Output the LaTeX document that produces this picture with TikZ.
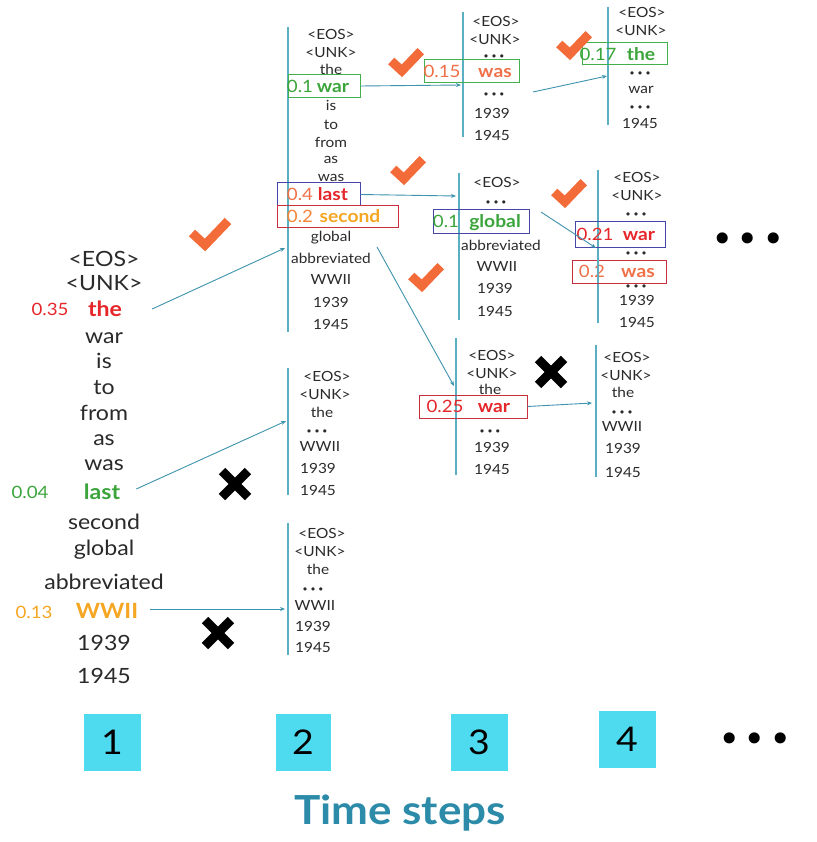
\documentclass[tikz,border=0pt]{standalone}
\usepackage{fontspec}
\setmainfont{Lato}[FakeStretch=1.1]
\newfontfamily\dotfont{DejaVu Sans}
\usetikzlibrary{arrows.meta}
\definecolor{txt}{HTML}{2A2A2A}
\definecolor{vl}{HTML}{5AAFC2}
\definecolor{arr}{HTML}{3E93AD}
\definecolor{rd}{HTML}{E5262A}
\definecolor{gr}{HTML}{3BA53B}
\definecolor{orr}{HTML}{F5A623}
\definecolor{sal}{HTML}{F07048}
\definecolor{chk}{HTML}{F26B38}
\definecolor{cy}{HTML}{4FDBEF}
\definecolor{ts}{HTML}{2C8BA8}
\definecolor{bgr}{HTML}{44B04C}
\definecolor{bbl}{HTML}{4646A8}
\definecolor{brd}{HTML}{C83040}
\newcommand\dd{{\dotfont\fontsize{11}{11}\selectfont •\kern1.5pt•\kern1.5pt•}}
\tikzset{
  word/.style={inner sep=0pt, text=txt, font=\fontsize{14}{14}\selectfont, text height=10.1pt, text depth=0pt},
  bigword/.style={word, font=\fontsize{21}{21}\selectfont, text height=15pt},
  bigbold/.style={bigword, font=\fontsize{21}{21}\selectfont\bfseries},
  bigprob/.style={bigword, font=\fontsize{17}{17}\selectfont, text height=12.2pt},
  bprob/.style={inner sep=0pt, font=\fontsize{17}{17}\selectfont, text height=12.2pt, text depth=0pt},
  bword/.style={bprob, font=\fontsize{17.5}{17.5}\selectfont\bfseries},
  hbox/.style={draw=#1, line width=1pt, inner sep=0pt, rectangle},
  vline/.style={draw=vl, line width=1.2pt},
  conn/.style={draw=arr, line width=0.9pt, -{Stealth[length=5pt,width=4pt]}},
  checkmk/.pic={\draw[chk, line width=9pt, line join=miter] (-18,0) -- (-5,12) -- (18,-12);},
  crossmk/.pic={\draw[black, line width=9pt] (-13,-13) -- (13,13) (-13,13) -- (13,-13);},
  stepbox/.style={fill=cy, minimum width=57pt, minimum height=57pt, inner sep=0pt, font=\fontsize{34}{34}\selectfont, text=black},
  bigdots/.style={inner sep=0pt, font=\dotfont\fontsize{38}{38}\selectfont},
}
\begin{document}
\begin{tikzpicture}[x=1pt,y=-1pt]
\useasboundingbox[fill=white] (0,0) rectangle (816,842);

% ---------- column 1 ----------
\foreach \t/\y [count=\i] in {{<EOS>}/259,{<UNK>}/283,war/336,is/361,to/387,from/413,as/438,was/463,second/522,global/548,abbreviated/582,1939/643,1945/676}
  \node[bigword] (a\i) at (104,\y) {\t};
\node[bigbold, text=rd] (athe) at (105,309) {the};
\node[bigprob, text=rd] (pthe) at (50,309) {0.35};
\node[bigbold, text=gr] (alast) at (102,492) {last};
\node[bigprob, text=gr] (plast) at (30,492) {0.04};
\node[bigbold, text=orr] (awwii) at (107,611) {WWII};
\node[bigprob, text=orr] (pwwii) at (34,612) {0.13};

% ---------- column 2 top ----------
\draw[vline] (288,27) -- (288,332);
\foreach \t/\y [count=\i] in {{<EOS>}/34,{<UNK>}/52,the/69,is/105,to/124,from/142,as/158,was/176,global/236,abbreviated/258,WWII/279,1939/302,1945/324}
  \node[word] (b\i) at (331,\y) {\t};
\node[hbox=bgr, minimum width=72pt, minimum height=23pt] (bwar) at (324,86) {};
\node[bprob, text=gr] at (300,86) {0.1};
\node[bword, text=gr] at (333,86) {war};
\node[hbox=bbl, minimum width=83pt, minimum height=23pt] (blast) at (318.5,194.5) {};
\node[bprob, text=sal] at (300,194) {0.4};
\node[bword, text=rd] at (333,194) {last};
\node[hbox=brd, minimum width=121pt, minimum height=21pt] (bsecond) at (337.5,216.5) {};
\node[bprob, text=sal!60!orr] at (300,216) {0.2};
\node[bword, text=orr] at (350,216) {second};

% ---------- column 2 middle ----------
\draw[vline] (288,368) -- (288,495);
\foreach \x/\y/\t [count=\i] in {327/376/{<EOS>},325/394/{<UNK>},322/412/the,317/430/\dd,320/446/WWII,318/468/1939,318/490/1945}
  \node[word] (c\i) at (\x,\y) {\t};

% ---------- column 2 bottom ----------
\draw[vline] (288,523) -- (288,655);
\foreach \x/\y/\t [count=\i] in {322/533/{<EOS>},320/551/{<UNK>},318/569/the,313/588/\dd,315/605/WWII,313/626/1939,313/647/1945}
  \node[word] (d\i) at (\x,\y) {\t};

% ---------- column 3 top ----------
\draw[vline] (463,12) -- (463,137);
\foreach \x/\y/\t [count=\i] in {496/21/{<EOS>},495/39/{<UNK>},494/55/\dd,494/93/\dd,492/113/1939,492/135/1945}
  \node[word] (e\i) at (\x,\y) {\t};
\node[hbox=bgr, minimum width=95pt, minimum height=23pt] (ewas) at (471.5,71.5) {};
\node[bprob, text=sal] at (442,71) {0.15};
\node[bword, text=sal] at (495,71) {was};

% ---------- column 4 top ----------
\draw[vline] (608,7) -- (608,125);
\foreach \x/\y/\t [count=\i] in {642/12/{<EOS>},641/30/{<UNK>},640/72/\dd,641/88/war,640/106/\dd,640/123/1945}
  \node[word] (f\i) at (\x,\y) {\t};
\node[hbox=bgr, minimum width=85pt, minimum height=22pt] (fthe) at (624.5,54) {};
\node[bprob, text=gr] at (598,54) {0.17};
\node[bword, text=gr] at (641,54) {the};

% ---------- column 3 middle ----------
\draw[vline] (459,173) -- (459,320);
\foreach \x/\y/\t [count=\i] in {497/182/{<EOS>},496/201/\dd,501/245/abbreviated,497/266/WWII,495/288/1939,495/311/1945}
  \node[word] (g\i) at (\x,\y) {\t};
\node[hbox=bbl, minimum width=96pt, minimum height=23pt] (gglobal) at (481,221.5) {};
\node[bprob, text=gr] at (446,221) {0.1};
\node[bword, text=gr] at (495,221) {global};

% ---------- column 4 middle ----------
\draw[vline] (598,170) -- (598,323);
\foreach \x/\y/\t [count=\i] in {637/177/{<EOS>},637/195/{<UNK>},636/213/\dd,636/252/\dd,636/285/\dd,637/300/1939,637/322/1945}
  \node[word] (h\i) at (\x,\y) {\t};
\node[hbox=bbl, minimum width=90pt, minimum height=25pt] (hwar) at (620,234.5) {};
\node[bprob, text=rd] at (595,234) {0.21};
\node[bword, text=rd] at (639,234) {war};
\node[hbox=brd, minimum width=94pt, minimum height=23pt, fill=white] (hwas) at (619,271.5) {};
\node[bprob, text=sal] at (592,271) {0.2};
\node[bword, text=sal] at (638,271) {was};
\draw[vline] (598,260) -- (598,283);

% ---------- column 3 bottom ----------
\draw[vline] (456,338) -- (456,475);
\foreach \x/\y/\t [count=\i] in {492/355/{<EOS>},492/373/{<UNK>},490/389/the,490/430/\dd,492/447/1939,492/469/1945}
  \node[word] (k\i) at (\x,\y) {\t};
\node[hbox=brd, minimum width=108pt, minimum height=23pt] (kwar) at (473,406.5) {};
\node[bprob, text=rd] at (445,406) {0.25};
\node[bword, text=rd] at (494,406) {war};

% ---------- column 4 bottom ----------
\draw[vline] (596,345) -- (596,477);
\foreach \x/\y/\t [count=\i] in {627/357/{<EOS>},626/375/{<UNK>},623/392/the,622/411/\dd,622/426/WWII,623/448/1939,623/472/1945}
  \node[word] (m\i) at (\x,\y) {\t};

% ---------- connectors ----------
\coordinate (t2a) at (285,248);
\coordinate (t2b) at (286,421);
\coordinate (t2c) at (285,609);
\coordinate (t3a) at (461,85);
\coordinate (t3b) at (456,196);
\coordinate (t3c) at (454,386);
\coordinate (s3c) at (377,247);
\coordinate (t4a) at (607,76);
\coordinate (s4a) at (533,92);
\coordinate (s4b) at (541,212);
\coordinate (t4b) at (596,248);
\coordinate (t4c) at (592,403);
\draw[conn] ([xshift=30pt]athe.east) -- (t2a);
\draw[conn] ([xshift=16pt,yshift=3pt]alast.east) -- (t2b);
\draw[conn] ([xshift=12pt,yshift=2pt]awwii.east) -- (t2c);
\draw[conn] (bwar.east) -- (t3a);
\draw[conn] (blast.east) -- (t3b);
\draw[conn] (s3c) -- (t3c);
\draw[conn] (s4a) -- (t4a);
\draw[conn] (s4b) -- (t4b);
\draw[conn] (kwar.east) -- (t4c);

% ---------- marks ----------
\pic at (210,233) {checkmk};
\pic[scale=0.82] at (406,61) {checkmk};
\pic[scale=0.82] at (408,169) {checkmk};
\pic[scale=0.82] at (426,276) {checkmk};
\pic[scale=0.82] at (574,44) {checkmk};
\pic[scale=0.82] at (569,192) {checkmk};
\pic at (235,484) {crossmk};
\pic at (218,633) {crossmk};
\pic at (551,372) {crossmk};

\node[bigdots] (moreA) at (748,243) {•\kern3pt•\kern3pt•};

% ---------- time steps ----------
\node[stepbox] (s1) at (112,742) {1};
\node[stepbox, minimum width=55pt] (s2) at (303,742) {2};
\node[stepbox] (s3) at (479,742) {3};
\node[stepbox] (s4) at (627,739) {4};
\node[bigdots] (moreB) at (755,743) {•\kern3pt•\kern3pt•};
\node[inner sep=0pt, font=\fontsize{40}{40}\selectfont\bfseries, text=ts] (tsl) at (400,813) {Time steps};
\end{tikzpicture}
\end{document}
